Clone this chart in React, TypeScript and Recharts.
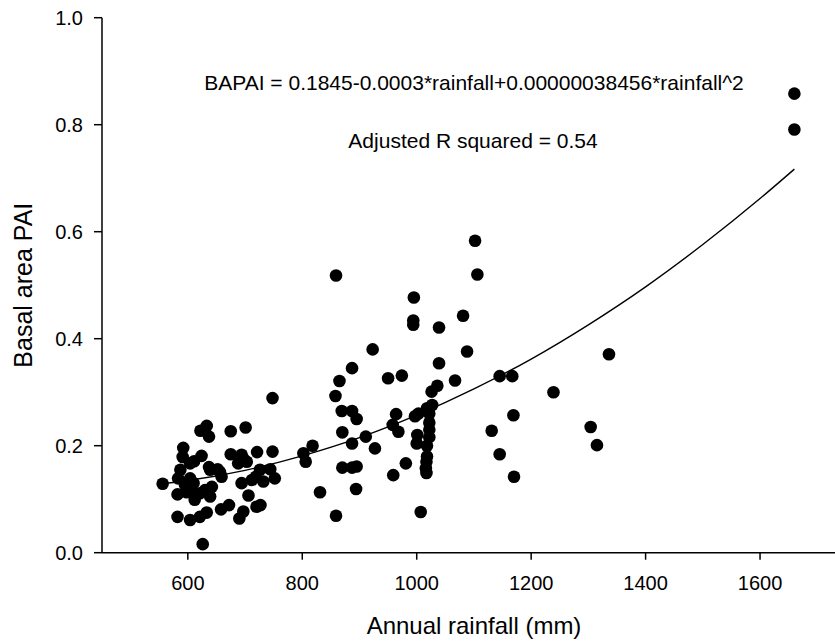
import React from 'react';
import { ComposedChart, Scatter, Line, XAxis, YAxis } from 'recharts';

// observed plots: annual rainfall (mm) vs basal area PAI
const rainfall = [
  556, 582, 604, 621, 633, 626, 592, 591, 604, 587, 583, 604, 595, 582, 598, 612, 621, 630, 642, 639,
  624, 622, 633, 637, 639, 656, 659, 658, 672, 675, 675, 701, 694, 688, 703, 697, 721, 748, 694, 706,
  697, 690, 720, 727, 712, 726, 732, 744, 752, 719, 748, 611, 637, 652, 610, 605,
  802, 806, 818, 831, 859, 858, 865, 859, 869, 870, 870, 887, 895, 887, 887, 895, 894, 887, 923, 911,
  927, 950, 974, 958, 964, 968, 959, 981, 995, 994, 994, 997, 1003, 1000, 1001, 1007,
  1027, 1018, 1022, 1022, 1022, 1022, 1018, 1018, 1017, 1017, 1016, 1026, 1036, 1039, 1067, 1088, 1081, 1039,
  1102, 1106, 1145, 1167, 1169, 1239, 1131, 1145, 1170, 1304, 1315, 1336, 1660, 1660,
];
const basalPAI = [
  0.129, 0.067, 0.061, 0.067, 0.075, 0.016, 0.196, 0.179, 0.167, 0.155, 0.139, 0.139, 0.127, 0.109, 0.113, 0.099, 0.111, 0.117, 0.123, 0.105,
  0.181, 0.228, 0.237, 0.217, 0.155, 0.151, 0.142, 0.081, 0.089, 0.227, 0.184, 0.234, 0.183, 0.167, 0.170, 0.176, 0.188, 0.189, 0.130, 0.107,
  0.077, 0.064, 0.086, 0.089, 0.136, 0.155, 0.133, 0.156, 0.139, 0.142, 0.289, 0.171, 0.160, 0.156, 0.130, 0.118,
  0.186, 0.170, 0.200, 0.113, 0.069, 0.293, 0.321, 0.518, 0.265, 0.225, 0.159, 0.265, 0.250, 0.204, 0.159, 0.161, 0.119, 0.345, 0.380, 0.217,
  0.195, 0.326, 0.331, 0.239, 0.259, 0.226, 0.145, 0.167, 0.477, 0.434, 0.426, 0.255, 0.260, 0.204, 0.220, 0.076,
  0.276, 0.270, 0.260, 0.243, 0.230, 0.216, 0.200, 0.180, 0.170, 0.149, 0.158, 0.301, 0.312, 0.354, 0.322, 0.376, 0.443, 0.421,
  0.583, 0.520, 0.330, 0.330, 0.257, 0.300, 0.228, 0.184, 0.142, 0.235, 0.201, 0.371, 0.858, 0.791,
];

// fitted curve
const curveRain = [556, 600, 700, 800, 900, 1000, 1100, 1200, 1300, 1400, 1500, 1600, 1660];
const curveFit = [0.129, 0.135, 0.154, 0.181, 0.215, 0.257, 0.306, 0.362, 0.426, 0.497, 0.576, 0.662, 0.717];

const xTicks = [600, 800, 1000, 1200, 1400, 1600];
const yTicks = [0, 0.2, 0.4, 0.6, 0.8, 1.0];

const points = rainfall.map((x, i) => ({ x, y: basalPAI[i] }));
const curve = curveRain.map((x, i) => ({ x, y: curveFit[i] }));

const FONT = "'Liberation Sans', Arial, sans-serif";

const Dot = (props: any) => <circle cx={props.cx} cy={props.cy} r={6.3} fill="#000" />;

export default function App() {
  return (
    <div style={{ width: 835, height: 643, overflow: 'hidden', background: '#fff' }}>
      <style>{'body{margin:0}'}</style>
      <ComposedChart width={835} height={643} margin={{ top: 17.7, right: 0, bottom: 0, left: 0 }} style={{ fontFamily: FONT }}>
        <XAxis
          type="number"
          dataKey="x"
          domain={[450, 1731]}
          ticks={xTicks}
          allowDataOverflow
          height={90.3}
          tickSize={7}
          tickMargin={16}
          stroke="#000"
          strokeWidth={1.5}
          tick={{ fill: '#000', fontSize: 20, fontFamily: FONT }}
          label={{ value: 'Annual rainfall (mm)', position: 'insideBottom', offset: 9, dx: 5.5, fill: '#000', fontSize: 24, fontFamily: FONT }}
        />
        <YAxis
          type="number"
          dataKey="y"
          domain={[0, 1]}
          ticks={yTicks}
          width={102}
          tickSize={8}
          tickMargin={11}
          stroke="#000"
          strokeWidth={1.5}
          tickFormatter={(v: number) => v.toFixed(1)}
          tick={{ fill: '#000', fontSize: 20, fontFamily: FONT }}
          label={{ value: 'Basal area PAI', angle: -90, position: 'insideLeft', offset: 23.4, fill: '#000', fontSize: 25, fontFamily: FONT, style: { textAnchor: 'middle' } }}
        />
        <Line data={curve} dataKey="y" type="monotone" stroke="#000" strokeWidth={1.4} dot={false} activeDot={false} isAnimationActive={false} />
        <Scatter data={points} dataKey="y" shape={Dot} isAnimationActive={false} />
        <text x={474} y={90} textAnchor="middle" fontSize={21} fontFamily={FONT} fill="#000">
          BAPAI = 0.1845-0.0003*rainfall+0.00000038456*rainfall^2
        </text>
        <text x={473} y={148} textAnchor="middle" fontSize={21} fontFamily={FONT} fill="#000">
          Adjusted R squared = 0.54
        </text>
      </ComposedChart>
    </div>
  );
}
